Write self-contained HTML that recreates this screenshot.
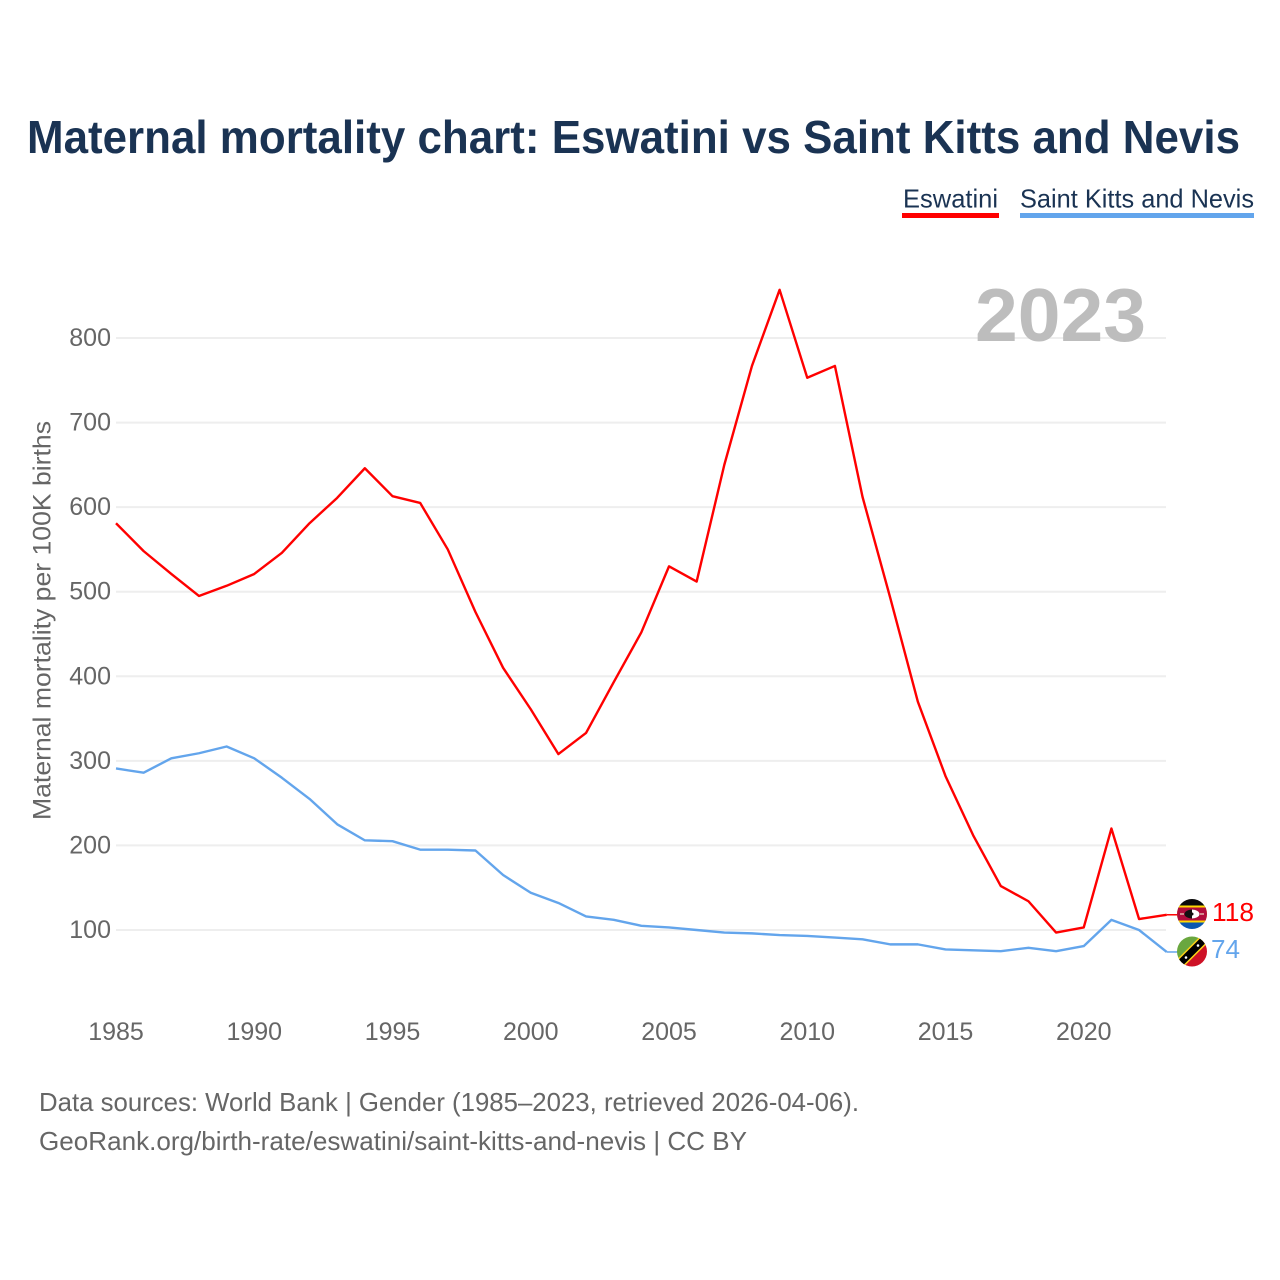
<!DOCTYPE html>
<html lang="en">
<head>
<meta charset="utf-8">
<title>Maternal mortality chart: Eswatini vs Saint Kitts and Nevis</title>
<style>
  html, body { margin: 0; padding: 0; background: #fff; }
  svg { display: block; font-family: "Liberation Sans", sans-serif; }
</style>
</head>
<body>
<svg id="chart" xmlns="http://www.w3.org/2000/svg" width="1280" height="1280" viewBox="0 0 1280 1280">
  <defs>
    <clipPath id="clip-sz"><circle cx="1192" cy="914" r="15"/></clipPath>
    <clipPath id="clip-kn"><circle cx="1192" cy="951.500" r="15"/></clipPath>
  </defs>
  <rect x="0" y="0" width="1280" height="1280" fill="#ffffff"/>

  <text x="27" y="153" font-size="46" font-weight="700" fill="#1a3353" textLength="1213" lengthAdjust="spacingAndGlyphs">Maternal mortality chart: Eswatini vs Saint Kitts and Nevis</text>

  <g>
    <g>
      <text x="903" y="207.500" font-size="26" fill="#1a3353" textLength="95" lengthAdjust="spacingAndGlyphs">Eswatini</text>
      <rect x="902" y="213" width="97" height="5" fill="#ff0000"/>
    </g>
    <g>
      <text x="1020" y="207.500" font-size="26" fill="#1a3353" textLength="234" lengthAdjust="spacingAndGlyphs">Saint Kitts and Nevis</text>
      <rect x="1020" y="213" width="234" height="5" fill="#63a5ec"/>
    </g>
  </g>

  <g id="grid"></g>

  <text x="975" y="341" font-size="75" font-weight="700" fill="#bdbdbd" textLength="171" lengthAdjust="spacingAndGlyphs">2023</text>

  <g id="y-ticks"></g>
  <g id="x-ticks"></g>

  <text transform="translate(50.500 820) rotate(-90)" x="0" y="0" font-size="25" fill="#666666" textLength="399" lengthAdjust="spacingAndGlyphs">Maternal mortality per 100K births</text>

  <g id="series"></g>

  <g clip-path="url(#clip-sz)">
    <rect x="1177" y="899" width="30" height="10" fill="#0a0a0a"/>
    <rect x="1177" y="919" width="30" height="10" fill="#0b57b0"/>
    <rect x="1177" y="905.500" width="30" height="17" fill="#ffd900"/>
    <rect x="1177" y="907.500" width="30" height="13" fill="#b10c3c"/>
    <ellipse cx="1192" cy="914" rx="7.500" ry="4.500" fill="#111111"/>
    <path d="M1192 909.500 A7.500 4.500 0 0 1 1192 918.500 Z" fill="#ffffff"/>
    <circle cx="1192" cy="914" r="1.500" fill="#111111"/>
    <rect x="1180" y="913.400" width="4" height="1.200" fill="#e8e2c8"/>
    <rect x="1200" y="913.400" width="4" height="1.200" fill="#e8e2c8"/>
  </g>

  <g clip-path="url(#clip-kn)">
    <polygon points="1177,936.500 1207,936.500 1177,966.500" fill="#6aa73f"/>
    <polygon points="1207,966.500 1207,936.500 1177,966.500" fill="#ce1126"/>
    <line x1="1174" y1="969.500" x2="1210" y2="933.500" stroke="#fcd116" stroke-width="10"/>
    <line x1="1174" y1="969.500" x2="1210" y2="933.500" stroke="#000000" stroke-width="7"/>
    <circle cx="1186" cy="957.500" r="1.300" fill="#ffffff"/>
    <circle cx="1198" cy="945.500" r="1.300" fill="#ffffff"/>
  </g>

  <text x="1212" y="921" font-size="26" fill="#ff0000" textLength="42" lengthAdjust="spacingAndGlyphs">118</text>
  <text x="1211" y="958" font-size="26" fill="#63a5ec" textLength="29" lengthAdjust="spacingAndGlyphs">74</text>

  <text x="39" y="1111" font-size="26" fill="#666666" textLength="820" lengthAdjust="spacingAndGlyphs">Data sources: World Bank | Gender (1985–2023, retrieved 2026-04-06).</text>
  <text x="39" y="1150" font-size="26" fill="#666666" textLength="708" lengthAdjust="spacingAndGlyphs">GeoRank.org/birth-rate/eswatini/saint-kitts-and-nevis | CC BY</text>
</svg>

<script>
const years = [1985,1986,1987,1988,1989,1990,1991,1992,1993,1994,1995,1996,1997,1998,1999,2000,2001,2002,2003,2004,2005,2006,2007,2008,2009,2010,2011,2012,2013,2014,2015,2016,2017,2018,2019,2020,2021,2022,2023];
const eswatiniValues = [581,548,521,495,507,521,546,581,611,646,613,605,550,476,410,361,308,333,393,452,530,512,650,767,857,753,767,612,493,370,282,212,152,134,97,103,220,113,118];
const saintKittsValues = [291,286,303,309,317,303,280,255,225,206,205,195,195,194,165,144,132,116,112,105,103,100,97,96,94,93,91,89,83,83,77,76,75,79,75,81,112,100,74];
const yTickValues = [100,200,300,400,500,600,700,800];
const xTickValues = [1985,1990,1995,2000,2005,2010,2015,2020];

function xScale(year) {
  return 116 + (year - 1985) * 27.65;
}
function yScale(value) {
  return 930 - (value - 100) * 0.8457;
}

const NS = 'http://www.w3.org/2000/svg';
const gridGroup = document.getElementById('grid');
const yTickGroup = document.getElementById('y-ticks');
const xTickGroup = document.getElementById('x-ticks');
const seriesGroup = document.getElementById('series');

yTickValues.forEach(function (v) {
  const line = document.createElementNS(NS, 'line');
  
  
  line.setAttribute('x1', 116);
  line.setAttribute('x2', 1166);
  line.setAttribute('y1', yScale(v));
  line.setAttribute('y2', yScale(v));
  line.setAttribute('stroke', '#eeeeee');
  line.setAttribute('stroke-width', 2);
  gridGroup.appendChild(line);

  const label = document.createElementNS(NS, 'text');
  
  
  label.setAttribute('x', 111);
  label.setAttribute('y', yScale(v) + 8);
  label.setAttribute('text-anchor', 'end');
  label.setAttribute('font-size', 25);
  label.setAttribute('fill', '#666666');
  label.textContent = v;
  yTickGroup.appendChild(label);
});

xTickValues.forEach(function (yr) {
  const label = document.createElementNS(NS, 'text');
  
  
  label.setAttribute('x', xScale(yr));
  label.setAttribute('y', 1040);
  label.setAttribute('text-anchor', 'middle');
  label.setAttribute('font-size', 25);
  label.setAttribute('fill', '#666666');
  label.textContent = yr;
  xTickGroup.appendChild(label);
});

function pointsFor(values) {
  return values.map(function (v, i) {
    return xScale(years[i]).toFixed(2) + ',' + yScale(v).toFixed(2);
  }).join(' ');
}

const eswatiniLine = document.createElementNS(NS, 'polyline');


eswatiniLine.setAttribute('points', pointsFor(eswatiniValues));
eswatiniLine.setAttribute('fill', 'none');
eswatiniLine.setAttribute('stroke', '#ff0000');
eswatiniLine.setAttribute('stroke-width', 2.4);
eswatiniLine.setAttribute('stroke-linejoin', 'round');
seriesGroup.appendChild(eswatiniLine);

const saintKittsLine = document.createElementNS(NS, 'polyline');


saintKittsLine.setAttribute('points', pointsFor(saintKittsValues));
saintKittsLine.setAttribute('fill', 'none');
saintKittsLine.setAttribute('stroke', '#63a5ec');
saintKittsLine.setAttribute('stroke-width', 2.4);
saintKittsLine.setAttribute('stroke-linejoin', 'round');
seriesGroup.appendChild(saintKittsLine);

const eswatiniConnector = document.createElementNS(NS, 'line');


eswatiniConnector.setAttribute('x1', xScale(2023));
eswatiniConnector.setAttribute('x2', xScale(2023) + 12);
eswatiniConnector.setAttribute('y1', yScale(eswatiniValues[eswatiniValues.length - 1]));
eswatiniConnector.setAttribute('y2', yScale(eswatiniValues[eswatiniValues.length - 1]));
eswatiniConnector.setAttribute('stroke', '#ff0000');
eswatiniConnector.setAttribute('stroke-width', 1.5);
seriesGroup.appendChild(eswatiniConnector);

const saintKittsConnector = document.createElementNS(NS, 'line');


saintKittsConnector.setAttribute('x1', xScale(2023));
saintKittsConnector.setAttribute('x2', xScale(2023) + 12);
saintKittsConnector.setAttribute('y1', yScale(saintKittsValues[saintKittsValues.length - 1]));
saintKittsConnector.setAttribute('y2', yScale(saintKittsValues[saintKittsValues.length - 1]));
saintKittsConnector.setAttribute('stroke', '#63a5ec');
saintKittsConnector.setAttribute('stroke-width', 1.5);
seriesGroup.appendChild(saintKittsConnector);
</script>
</body>
</html>
